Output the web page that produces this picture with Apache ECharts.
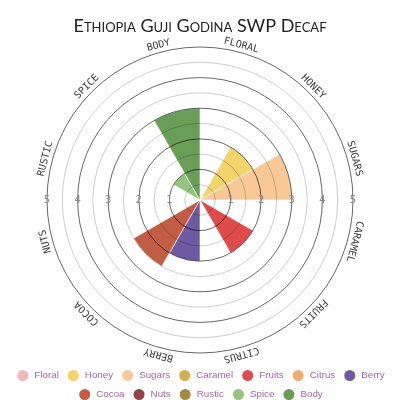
<!DOCTYPE html>
<html>
<head>
<meta charset="utf-8">
<script src="https://cdn.jsdelivr.net/npm/echarts@6/dist/echarts.min.js"></script>
<style>
  html, body { margin: 0; padding: 0; background: #fff; }
  #chart { width: 400px; height: 400px; }
</style>
</head>
<body>
<div id="chart"></div>
<script>
// flavour profile, one sector per category, clockwise from the top
const categories = ["Floral", "Honey", "Sugars", "Caramel", "Fruits", "Citrus", "Berry", "Cocoa", "Nuts", "Rustic", "Spice", "Body"];
const values = [0, 2, 3, 0, 2, 0, 2, 2.5, 0, 0, 1, 3];
const colors = ["#f2b8b8", "#f3d36c", "#f8c996", "#d4ae4c", "#de4b4b", "#f0ae6e", "#6c5aa2", "#c25d45", "#8f4545", "#a28a46", "#94c480", "#6a9e58"];
const radiusTicks = [0, 1, 2, 3, 4, 5];

const chart = echarts.init(document.getElementById("chart"));

const cx = 200, cy = 200, R = 153;

const series = categories.map((name, i) => ({
  name: name,
  type: "bar",
  coordinateSystem: "polar",
  polarIndex: 0,
  stack: "all",
  barCategoryGap: "0%",
  data: categories.map((c, j) => (j === i && values[i] > 0 ? values[i] : "-")),
  itemStyle: { color: colors[i], borderColor: "#fff", borderWidth: 0.6 },
}));

// side axes that only carry the 1..5 labels on the horizontal line
const labelAxis = (polarIndex) => ({
  polarIndex: polarIndex,
  type: "value",
  min: radiusTicks[0],
  max: radiusTicks[radiusTicks.length - 1],
  interval: 1,
  z: 6,
  axisLine: { show: false },
  axisTick: { show: false },
  splitLine: { show: false },
  axisLabel: {
    showMinLabel: false,
    margin: 0,
    align: "center",
    verticalAlign: "middle",
    color: "#8a8a8a",
    fontSize: 10,
    fontFamily: "DejaVu Sans",
  },
});

// category names round the outside, bottoms facing the centre
const nameLabels = categories.map((name, i) => {
  const a = ((i + 0.5) * 30 * Math.PI) / 180;
  const r = R + 7;
  return {
    type: "text",
    x: cx + r * Math.sin(a),
    y: cy - r * Math.cos(a),
    rotation: -a,
    z: 10,
    style: {
      text: name.toUpperCase(),
      textAlign: "center",
      textVerticalAlign: "middle",
      fill: "#3a3a3a",
      font: '10px "DejaVu Sans Mono"',
    },
  };
});

const legendBase = {
  left: "center",
  icon: "circle",
  itemWidth: 13,
  itemHeight: 13,
  itemGap: 7,
  textStyle: { color: "#a3679a", fontSize: 9.8, fontFamily: "Liberation Sans" },
};

const option = {
  animation: false,
  title: {
    text: "Ethiopia Guji Godina SWP Decaf",
    left: "center",
    top: 12,
    textStyle: {
      fontStyle: "small-caps",
      fontWeight: "normal",
      fontSize: 18,
      fontFamily: "Lato",
      color: "#222",
    },
  },
  legend: [
    Object.assign({}, legendBase, { data: categories.slice(0, 7), top: 363 }),
    Object.assign({}, legendBase, { data: categories.slice(7), top: 382 }),
  ],
  polar: [
    { center: [cx, cy], radius: R },
    { center: [cx, cy], radius: R },
    { center: [cx, cy], radius: R },
  ],
  angleAxis: [
    {
      polarIndex: 0,
      type: "category",
      data: categories,
      startAngle: 90,
      clockwise: true,
      axisLine: { show: false },
      axisTick: { show: false },
      axisLabel: { show: false },
      splitLine: { show: false },
    },
    { polarIndex: 1, type: "value", startAngle: 0, show: false },
    { polarIndex: 2, type: "value", startAngle: 180, show: false },
  ],
  radiusAxis: [
    {
      polarIndex: 0,
      type: "value",
      min: radiusTicks[0],
      max: radiusTicks[radiusTicks.length - 1],
      interval: 1,
      z: 5,
      axisLine: { show: false },
      axisTick: { show: false },
      axisLabel: { show: false },
      splitLine: { show: true, lineStyle: { color: "rgba(0,0,0,0.6)", width: 1 } },
      minorTick: { show: false, splitNumber: 2 },
      minorSplitLine: { show: true, lineStyle: { color: "rgba(0,0,0,0.2)", width: 1 } },
    },
    labelAxis(1),
    labelAxis(2),
  ],
  graphic: nameLabels,
  series: series,
};

chart.setOption(option);
</script>
</body>
</html>
